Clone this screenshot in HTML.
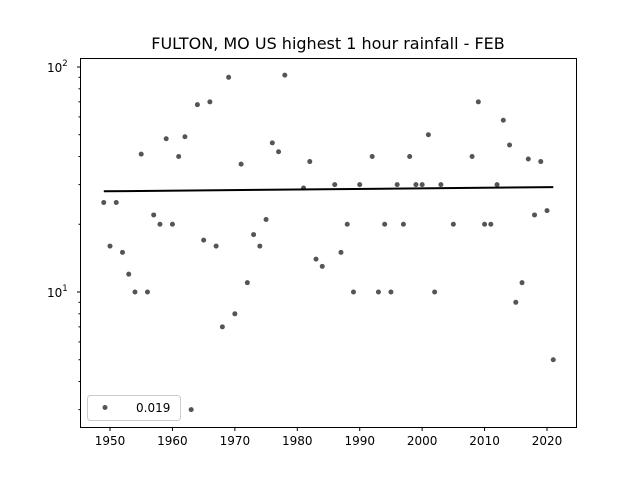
<!DOCTYPE html>
<html><head><meta charset="utf-8"><style>body{margin:0;background:#fff}svg{display:block}text{font-family:"DejaVu Sans","Liberation Sans",sans-serif;fill:#000}</style></head>
<body>
<svg id="s" width="640" height="480" xmlns="http://www.w3.org/2000/svg">
<rect width="640" height="480" fill="#fff"/>
<text x="328" y="49" font-size="16" text-anchor="middle">FULTON, MO US highest 1 hour rainfall - FEB</text>
<g id="pts"></g>
<line x1="103.8" y1="191.3" x2="553.3" y2="187.1" stroke="#000" stroke-width="2"/>
<rect x="80.5" y="58.5" width="496" height="369" fill="none" stroke="#000" stroke-width="1"/>
<g id="ticks" stroke="#000"></g>
<g font-size="12" text-anchor="middle" id="xl"></g>
<text x="47" y="72" font-size="12">10<tspan dy="-6" font-size="8.5">2</tspan></text>
<text x="47" y="297" font-size="12">10<tspan dy="-6" font-size="8.5">1</tspan></text>
<rect x="87.5" y="395.5" width="93" height="25" rx="3" fill="#fff" stroke="#ccc"/>
<circle cx="105" cy="407.5" r="2.5" fill="#555"/>
<text x="136" y="412" font-size="12">0.019</text>
</svg>
<script>
const d=[[1949,25],[1950,16],[1951,25],[1952,15],[1953,12],[1954,10],[1955,41],[1956,10],[1957,22],[1958,20],[1959,48],[1960,20],[1961,40],[1962,49],[1963,3],[1964,68],[1965,17],[1966,70],[1967,16],[1968,7],[1969,90],[1970,8],[1971,37],[1972,11],[1973,18],[1974,16],[1975,21],[1976,46],[1977,42],[1978,92],[1981,29],[1982,38],[1983,14],[1984,13],[1986,30],[1987,15],[1988,20],[1989,10],[1990,30],[1992,40],[1993,10],[1994,20],[1995,10],[1996,30],[1997,20],[1998,40],[1999,30],[2000,30],[2001,50],[2002,10],[2003,30],[2005,20],[2008,40],[2009,70],[2010,20],[2011,20],[2012,30],[2013,58],[2014,45],[2015,9],[2016,11],[2017,39],[2018,22],[2019,38],[2020,23],[2021,5]];
const X=y=>110+(y-1950)*6.243, Y=v=>292-225*Math.log10(v/10);
let h='';for(const[a,b]of d)h+=`<circle cx="${X(a)}" cy="${Y(b)}" r="2.5" fill="#555"/>`;
document.getElementById('pts').innerHTML=h;
let t='',l='';
for(let y=1950;y<=2020;y+=10){const x=X(y);t+=`<line x1="${x}" y1="427.5" x2="${x}" y2="431"/>`;l+=`<text x="${x}" y="445">${y}</text>`;}
for(const v of [10,100]){const y=Y(v);t+=`<line x1="80.5" y1="${y}" x2="77" y2="${y}"/>`;}
for(const v of [3,4,5,6,7,8,9,20,30,40,50,60,70,80,90]){const y=Y(v);t+=`<line x1="80.5" y1="${y}" x2="78.5" y2="${y}"/>`;}
document.getElementById('ticks').innerHTML=t;document.getElementById('xl').innerHTML=l;
</script>
</body></html>
